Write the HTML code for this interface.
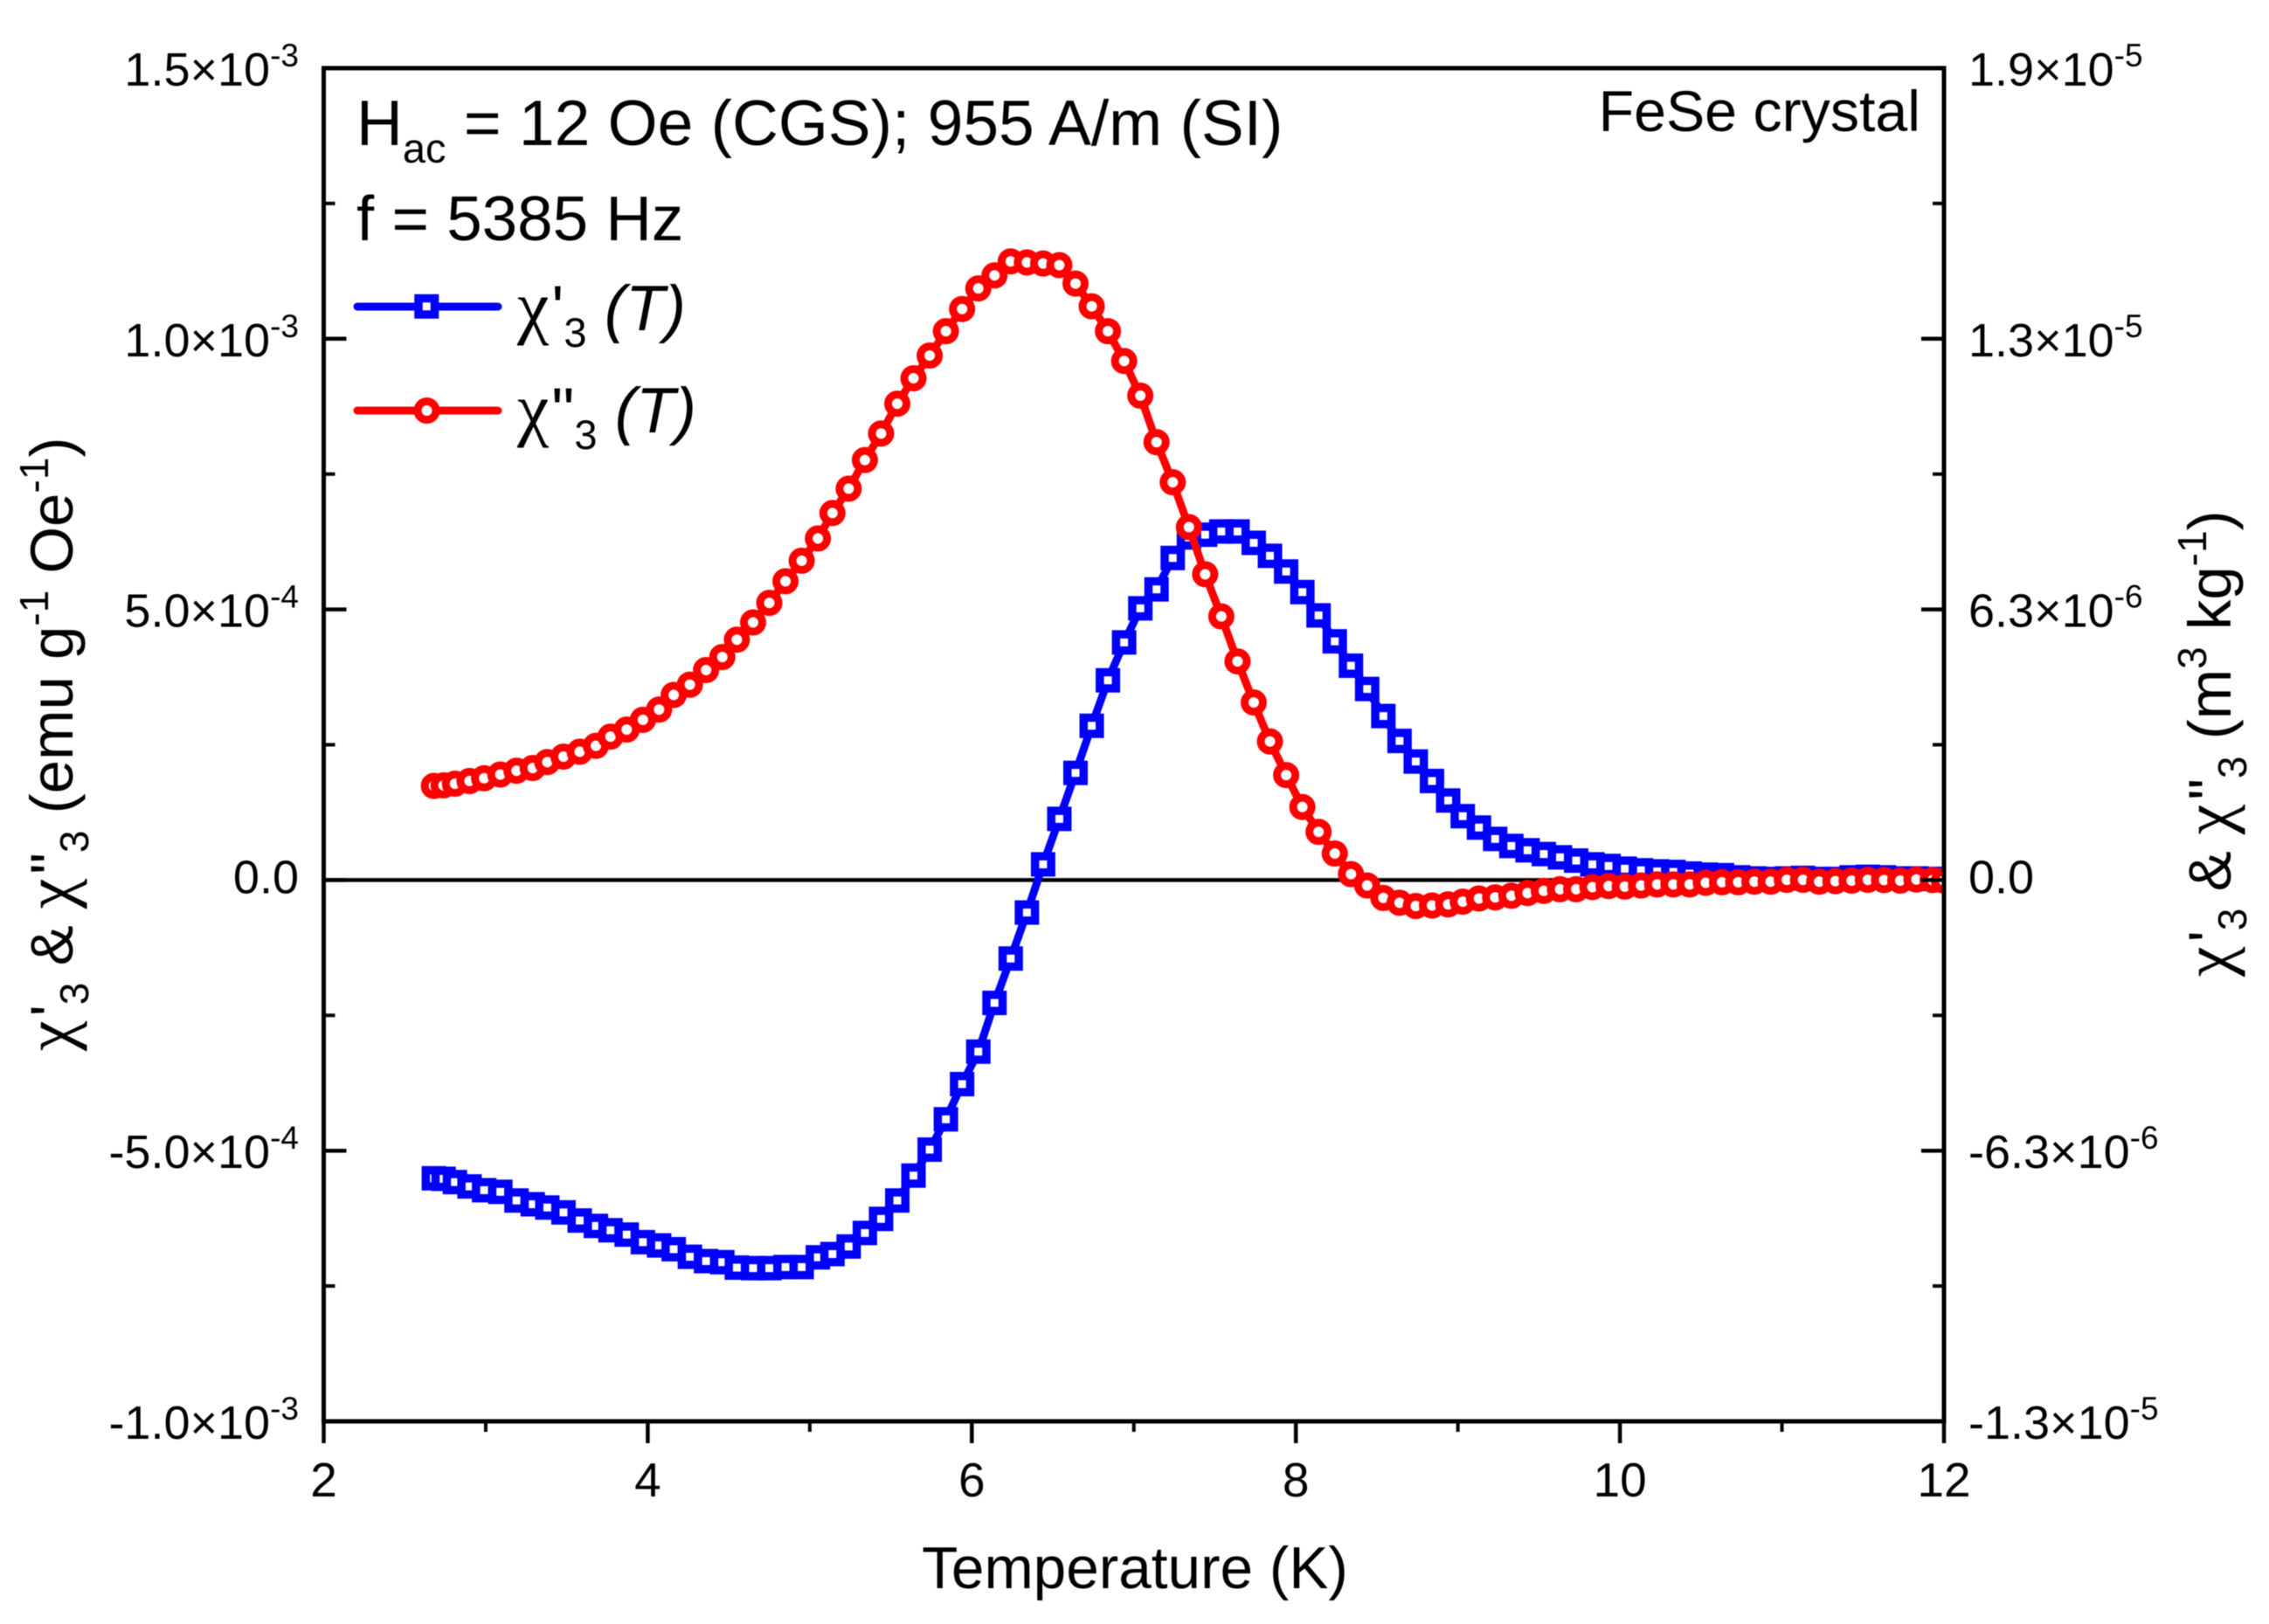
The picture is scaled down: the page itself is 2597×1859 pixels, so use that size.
<!DOCTYPE html>
<html>
<head>
<meta charset="utf-8">
<title>FeSe crystal third-harmonic susceptibility</title>
<style>
html,body{margin:0;padding:0;background:#fff;}
body{width:2597px;height:1859px;overflow:hidden;}
svg{display:block;font-family:"Liberation Sans",Arial,sans-serif;fill:#000;filter:blur(0.6px);}
.chi{font-family:"Liberation Serif","Liberation Sans",serif;}
</style>
</head>
<body>
<svg id="chart" xmlns="http://www.w3.org/2000/svg" width="2597" height="1859" viewBox="0 0 2597 1859">
  <defs><clipPath id="plot-clip"><rect x="370" y="78" width="1855" height="1549"/></clipPath></defs>
  <rect x="0" y="0" width="2597" height="1859" fill="#fff"/>
  <g id="zero"></g>
  <g id="series" clip-path="url(#plot-clip)"></g>
  <g id="axes"></g>
  <g id="labels" font-size="54"></g>

  <text x="1299" y="1818" font-size="67.5" text-anchor="middle">Temperature (K)</text>
  <text transform="translate(83,1203) rotate(-90)" font-size="69"><tspan class="chi" font-size="78">χ</tspan><tspan dx="5">'</tspan><tspan font-size="46" dy="18">3</tspan><tspan dy="-18"> &amp; </tspan><tspan class="chi" font-size="78">χ</tspan><tspan dx="5">"</tspan><tspan font-size="46" dy="18">3</tspan><tspan dy="-18"> (emu g</tspan><tspan font-size="46" dy="-28">-1</tspan><tspan dy="28"> Oe</tspan><tspan font-size="46" dy="-28">-1</tspan><tspan dy="28">)</tspan></text>
  <text transform="translate(2553,1118) rotate(-90)" font-size="69"><tspan class="chi" font-size="78">χ</tspan><tspan dx="5">'</tspan><tspan font-size="46" dy="18">3</tspan><tspan dy="-18"> &amp; </tspan><tspan class="chi" font-size="78">χ</tspan><tspan dx="5">"</tspan><tspan font-size="46" dy="18">3</tspan><tspan dy="-18"> (m</tspan><tspan font-size="46" dy="-28">3</tspan><tspan dy="28"> kg</tspan><tspan font-size="46" dy="-28">-1</tspan><tspan dy="28">)</tspan></text>

  <text x="408" y="166" font-size="73.2">H<tspan font-size="47" dy="20">ac</tspan><tspan dy="-20"> = 12 Oe (CGS); 955 A/m (SI)</tspan></text>
  <text x="408" y="275" font-size="72.8">f = 5385 Hz</text>
  <text x="2198" y="150" font-size="66.3" text-anchor="end">FeSe crystal</text>

  <g>
    <g>
      <line x1="409" y1="351" x2="570" y2="351" stroke="#0000ff" stroke-width="9" stroke-linecap="round"/>
      <rect x="479" y="341.5" width="18.5" height="18.5" fill="#fff" stroke="#0000ff" stroke-width="9.5"/>
      <text x="592" y="378" font-size="73"><tspan class="chi" font-size="82">χ</tspan><tspan dx="3">'</tspan><tspan font-size="47" dy="19">3</tspan><tspan dy="-19"> </tspan><tspan font-style="italic">(T)</tspan></text>
    </g>
    <g>
      <line x1="409" y1="470" x2="570" y2="470" stroke="#ff0000" stroke-width="9" stroke-linecap="round"/>
      <circle cx="488.5" cy="470" r="10.5" fill="#fff" stroke="#ff0000" stroke-width="9"/>
      <text x="592" y="495" font-size="73"><tspan class="chi" font-size="82">χ</tspan><tspan dx="3">"</tspan><tspan font-size="47" dy="19">3</tspan><tspan dy="-19"> </tspan><tspan font-style="italic">(T)</tspan></text>
    </g>
  </g>
</svg>
<script>
const temperatures = [2.68,2.74,2.81,2.90,2.99,3.09,3.19,3.29,3.38,3.48,3.58,3.68,3.77,3.87,3.97,4.07,4.16,4.26,4.36,4.46,4.55,4.65,4.75,4.85,4.95,5.05,5.14,5.24,5.34,5.44,5.54,5.64,5.74,5.84,5.94,6.04,6.14,6.24,6.34,6.44,6.54,6.64,6.74,6.84,6.94,7.04,7.14,7.24,7.34,7.44,7.54,7.64,7.74,7.84,7.94,8.04,8.14,8.24,8.34,8.44,8.54,8.64,8.74,8.84,8.94,9.03,9.13,9.23,9.33,9.43,9.53,9.63,9.73,9.83,9.93,10.03,10.13,10.23,10.33,10.43,10.53,10.63,10.73,10.83,10.93,11.03,11.13,11.23,11.33,11.43,11.53,11.63,11.73,11.83,11.93,12.00];
const chiPrime = [-0.551,-0.552,-0.558,-0.566,-0.573,-0.576,-0.592,-0.599,-0.605,-0.614,-0.629,-0.639,-0.647,-0.655,-0.669,-0.675,-0.682,-0.696,-0.704,-0.706,-0.716,-0.717,-0.717,-0.715,-0.715,-0.697,-0.691,-0.677,-0.652,-0.626,-0.592,-0.546,-0.498,-0.442,-0.377,-0.317,-0.227,-0.145,-0.060,0.029,0.113,0.198,0.285,0.369,0.439,0.502,0.537,0.595,0.633,0.638,0.644,0.644,0.623,0.599,0.570,0.532,0.489,0.441,0.396,0.353,0.303,0.257,0.219,0.183,0.147,0.118,0.097,0.076,0.063,0.055,0.048,0.042,0.036,0.029,0.026,0.021,0.018,0.016,0.015,0.012,0.010,0.009,0.005,0.003,0.002,0.003,0.004,0.002,0.002,0.005,0.006,0.005,0.003,0.003,0.002,0.002];
const chiDoublePrime = [0.174,0.175,0.178,0.183,0.188,0.195,0.202,0.207,0.218,0.228,0.237,0.248,0.265,0.278,0.296,0.315,0.342,0.361,0.388,0.412,0.444,0.476,0.512,0.552,0.590,0.631,0.678,0.723,0.776,0.825,0.880,0.927,0.969,1.014,1.055,1.093,1.117,1.143,1.141,1.139,1.136,1.102,1.060,1.014,0.959,0.895,0.809,0.735,0.652,0.565,0.487,0.404,0.328,0.256,0.194,0.135,0.089,0.049,0.011,-0.010,-0.033,-0.042,-0.048,-0.047,-0.045,-0.040,-0.034,-0.032,-0.029,-0.024,-0.020,-0.017,-0.017,-0.013,-0.011,-0.012,-0.010,-0.008,-0.008,-0.008,-0.005,-0.004,-0.004,-0.003,-0.003,0.0005,0.0005,-0.003,-0.002,-0.001,0.0005,0,-0.001,0.001,0,-0.001];
const xMajorTicks = [2,4,6,8,10,12];
const xMinorTicks = [3,5,7,9,11];
const yMajorTicks = [-1,-0.5,0,0.5,1,1.5];
const yMinorTicks = [-0.75,-0.25,0.25,0.75,1.25];
const leftMantissas = ["-1.0×10","-5.0×10","0.0","5.0×10","1.0×10","1.5×10"];
const leftExponents = ["-3","-4","","-4","-3","-3"];
const rightMantissas = ["-1.3×10","-6.3×10","0.0","6.3×10","1.3×10","1.9×10"];
const rightExponents = ["-5","-6","","-6","-5","-5"];

const NS = 'http://www.w3.org/2000/svg';
const LEFT = 370.5, RIGHT = 2225, TOP = 78, BOTTOM = 1627;
function xScale(t){ return LEFT + (t - 2) / 10 * (RIGHT - LEFT); }
function yScale(v){ return BOTTOM - (v + 1) / 2.5 * (BOTTOM - TOP); }
function el(tag, parent, attrs){
  const node = document.createElementNS(NS, tag);
  for (const k in attrs) node.setAttribute(k, attrs[k]);
  parent.appendChild(node);
  return node;
}

const zeroLayer = document.getElementById('zero');
const seriesLayer = document.getElementById('series');
const axesLayer = document.getElementById('axes');
const labelsLayer = document.getElementById('labels');

const zeroLine = el('line', zeroLayer, {x1: LEFT, x2: RIGHT, y1: yScale(0), y2: yScale(0), stroke: '#000', 'stroke-width': 4.5});



function drawSeries(values, color, kind, name){
  const group = el('g', seriesLayer, {});
  
  
  const pts = values.map(function(v, i){ return xScale(temperatures[i]).toFixed(2) + ',' + yScale(v).toFixed(2); }).join(' ');
  const line = el('polyline', group, {points: pts, fill: 'none', stroke: color, 'stroke-width': 9, 'stroke-linejoin': 'round'});
  
  
  values.forEach(function(v, i){
    const cx = xScale(temperatures[i]), cy = yScale(v);
    let mark;
    if (kind === 'square') {
      mark = el('rect', group, {x: cx - 9.25, y: cy - 9.25, width: 18.5, height: 18.5, fill: '#fff', stroke: color, 'stroke-width': 9.5});
    } else {
      mark = el('circle', group, {cx: cx, cy: cy, r: 10.5, fill: '#fff', stroke: color, 'stroke-width': 9});
    }
    
    
  });
}
drawSeries(chiPrime, '#0000ff', 'square', 'chi-prime-series');
drawSeries(chiDoublePrime, '#ff0000', 'circle', 'chi-double-prime-series');

function axisLine(x1, y1, x2, y2, w, name){
  const l = el('line', axesLayer, {x1: x1, y1: y1, x2: x2, y2: y2, stroke: '#000', 'stroke-width': w});
  
  
}
axisLine(LEFT - 2.5, TOP, RIGHT + 2.5, TOP, 5, 'top-axis-line');
axisLine(LEFT - 2.5, BOTTOM, RIGHT + 2.5, BOTTOM, 5, 'x-axis-line');
axisLine(LEFT, TOP - 2.5, LEFT, BOTTOM, 5, 'left-y-axis-line');
axisLine(RIGHT, TOP - 2.5, RIGHT, BOTTOM, 5, 'right-y-axis-line');

xMajorTicks.forEach(function(t){
  axisLine(xScale(t), BOTTOM, xScale(t), BOTTOM + 25, 4.5, 'x-major-tick');
  const lab = el('text', labelsLayer, {x: xScale(t), y: 1713, 'text-anchor': 'middle', 'font-size': 55});
  lab.textContent = t;
  
  
});
xMinorTicks.forEach(function(t){
  axisLine(xScale(t), BOTTOM, xScale(t), BOTTOM + 12, 4, 'x-minor-tick');
});
yMajorTicks.forEach(function(v, i){
  axisLine(LEFT, yScale(v), LEFT + 26, yScale(v), 4.5, 'left-y-major-tick');
  axisLine(RIGHT, yScale(v), RIGHT - 26, yScale(v), 4.5, 'right-y-major-tick');
  tickLabel(342, yScale(v), 'end', leftMantissas[i], leftExponents[i], 'left-y-tick-label');
  tickLabel(2253, yScale(v), 'start', rightMantissas[i], rightExponents[i], 'right-y-tick-label');
});
yMinorTicks.forEach(function(v){
  axisLine(LEFT, yScale(v), LEFT + 13, yScale(v), 4, 'left-y-minor-tick');
  axisLine(RIGHT, yScale(v), RIGHT - 13, yScale(v), 4, 'right-y-minor-tick');
});

function tickLabel(x, y, anchor, mantissa, exponent, name){
  const base = y + (exponent ? 20 : 15);
  const t = el('text', labelsLayer, {x: x, y: base, 'text-anchor': anchor});
  
  
  t.appendChild(document.createTextNode(mantissa));
  if (exponent) {
    const s = el('tspan', t, {dy: -22, 'font-size': 37});
    s.textContent = exponent;
  }
}
</script>
</body>
</html>
